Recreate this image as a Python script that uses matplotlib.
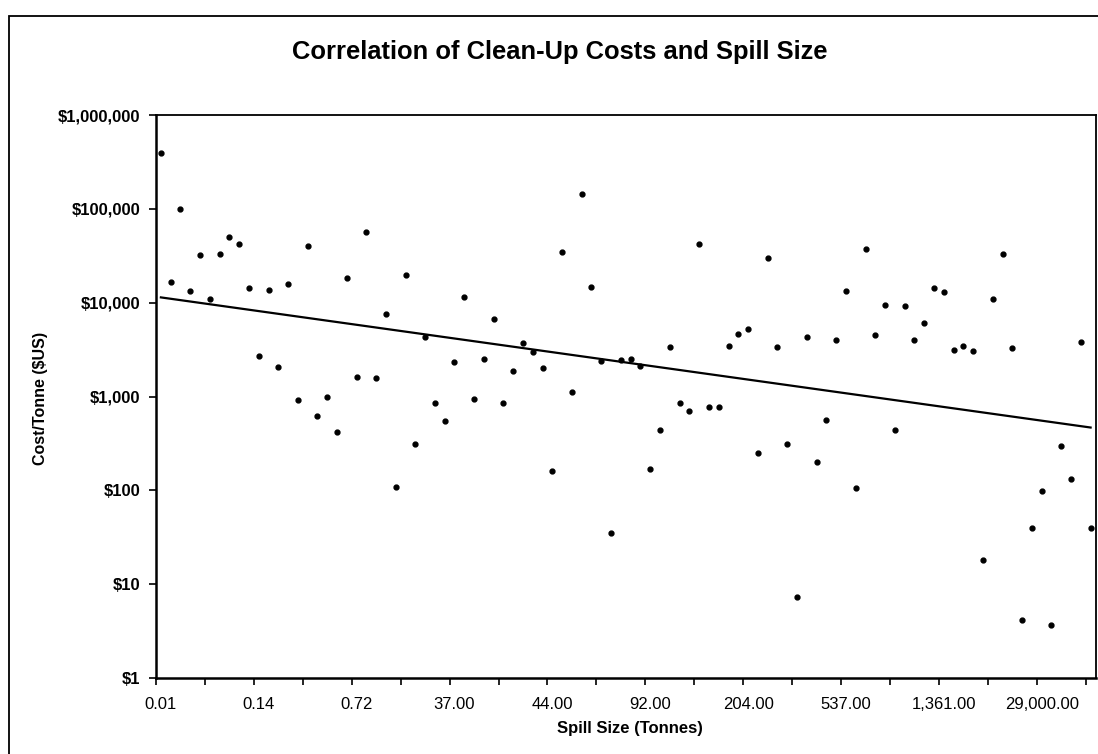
import numpy as np
import matplotlib
matplotlib.use("Agg")
import matplotlib.pyplot as plt
from matplotlib.patches import Rectangle
from matplotlib.ticker import FixedLocator, FuncFormatter, NullLocator

plt.rcParams['font.family'] = ['Liberation Sans', 'DejaVu Sans']

# cost per tonne, one value per spill, ordered by spill size
cost = [390000, 16700, 100000, 13200, 32400, 10900, 33200, 50700, 41700, 14200,
        2700, 13700, 2050, 16000, 913, 40100, 625, 985, 418, 18500,
        1600, 56500, 1560, 7600, 108, 19500, 311, 4300, 853, 542,
        2310, 11600, 944, 2490, 6670, 847, 1890, 3700, 3010, 1990,
        159, 34900, 1120, 143000, 14800, 2410, 35, 2430, 2510, 2110,
        170, 440, 3350, 847, 697, 42100, 771, 771, 3460, 4670,
        5280, 248, 30100, 3380, 313, 7.3, 4300, 199, 565, 4020,
        13300, 105, 36900, 4520, 9510, 435, 9120, 4020, 6120, 14200,
        13000, 3110, 3460, 3090, 18.2, 10900, 33200, 3270, 4.2, 39.3,
        99, 3.7, 294, 132, 3770, 39.3]

# spill size labels shown on the axis (every 10th spill)
size_labels = ["0.01", "0.14", "0.72", "37.00", "44.00", "92.00",
               "204.00", "537.00", "1,361.00", "29,000.00"]

y_ticks = [1, 10, 100, 1000, 10000, 100000, 1000000]

n = len(cost)
idx = np.arange(n)

fig = plt.figure(figsize=(10.98, 7.54), dpi=100)
ax = fig.add_axes([156/1098, 1 - 678/754, (1095.5 - 156)/1098, (678 - 115)/754])

ax.plot(idx, cost, 'o', color='black', ms=3.5, ls='none', zorder=3)

# exponential trendline (like excel)
b, a = np.polyfit(idx, np.log(cost), 1)
ax.plot(idx, np.exp(a + b*idx), color='black', lw=1.6, zorder=2)

ax.set_yscale('log')
ax.set_ylim(1, 1e6)
ax.set_xlim(-0.5, n - 0.5)
ax.yaxis.set_major_locator(FixedLocator(y_ticks))
ax.yaxis.set_minor_locator(NullLocator())
ax.yaxis.set_major_formatter(FuncFormatter(lambda v, p: "${:,.0f}".format(v)))

ax.xaxis.set_major_locator(FixedLocator(np.arange(-0.5, n - 1, 5)))
ax.xaxis.set_major_formatter(FuncFormatter(lambda v, p: ""))
ax.xaxis.set_minor_locator(FixedLocator(idx[::10]))
ax.set_xticklabels(size_labels, minor=True)
ax.tick_params(axis='x', which='minor', length=0, pad=14, labelsize=12)
ax.tick_params(axis='x', which='major', direction='out', length=5, width=1.2)
ax.tick_params(axis='y', direction='out', length=5, width=1.2, labelsize=12, pad=6)
for t in ax.get_yticklabels():
    t.set_fontweight('bold')

for s in ['left', 'bottom']:
    ax.spines[s].set_linewidth(1.8)
for s in ['top', 'right']:
    ax.spines[s].set_linewidth(1.3)

fig.text(560/1098, 1 - 52/754, "Correlation of Clean-Up Costs and Spill Size",
         ha='center', va='center', fontsize=18.4, fontweight='bold')
fig.text(630/1098, 1 - 729/754, "Spill Size (Tonnes)",
         ha='center', va='center', fontsize=12, fontweight='bold')
fig.text(40/1098, 1 - 398/754, "Cost/Tonne ($US)", rotation=90,
         ha='center', va='center', fontsize=11.5, fontweight='bold')

# chart area frame
fig.add_artist(Rectangle((9/1098, -0.02), 1.05, 1 - 16/754 + 0.02,
                         transform=fig.transFigure, fill=False,
                         edgecolor='black', lw=1.3, clip_on=False))

fig.savefig("out.png", dpi=100)
